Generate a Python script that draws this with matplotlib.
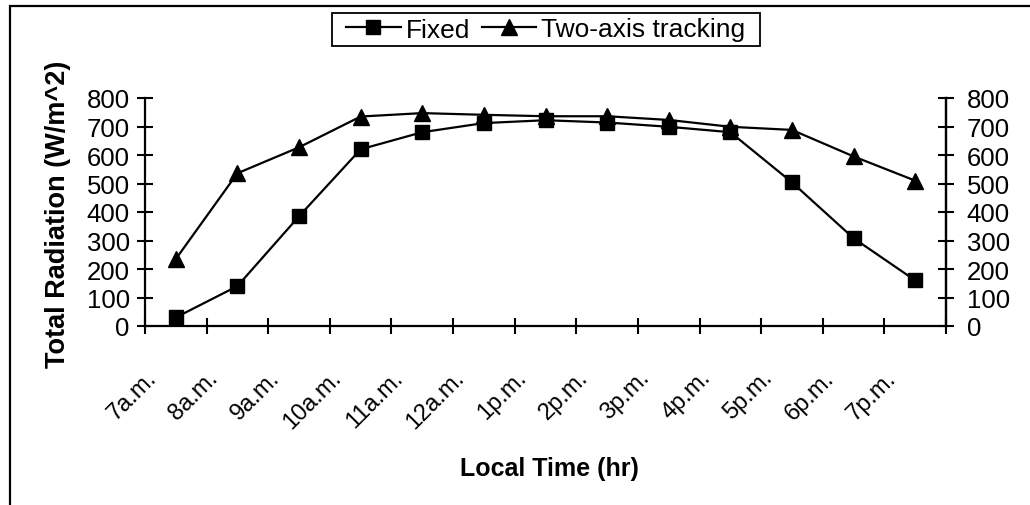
import matplotlib
matplotlib.use("Agg")
import matplotlib.pyplot as plt
from matplotlib.patches import Rectangle
from matplotlib.ticker import FixedLocator, NullFormatter
from matplotlib.transforms import ScaledTranslation

plt.rcParams['font.family'] = ['Liberation Sans', 'DejaVu Sans']

categories = ["7a.m.", "8a.m.", "9a.m.", "10a.m.", "11a.m.", "12a.m.", "1p.m.",
              "2p.m.", "3p.m.", "4p.m.", "5p.m.", "6p.m.", "7p.m."]
fixed = [30, 140, 385, 620, 680, 712, 722, 714, 699, 680, 504, 308, 160]
tracking = [235, 536, 627, 735, 747, 741, 736, 736, 723, 699, 688, 595, 510]
yticks = [0, 100, 200, 300, 400, 500, 600, 700, 800]

W, H = 1030, 506
fig = plt.figure(figsize=(W / 100, H / 100), dpi=100)
ax = fig.add_axes([145 / W, 1 - 327 / H, (946 - 145) / W, (327 - 99) / H])

x = list(range(len(categories)))
l1, = ax.plot(x, fixed, color='black', lw=1.6, marker='s', markersize=9.5,
              label='Fixed')
l2, = ax.plot(x, tracking, color='black', lw=1.6, marker='^', markersize=11,
              label='Two-axis tracking')

ax.set_xlim(-0.5, len(categories) - 0.5)
ax.set_ylim(0, 800)
ax.set_yticks(yticks)

ax.set_xticks(x)
ax.set_xticklabels(categories, rotation=45, ha='right', va='top', fontsize=17)
ax.tick_params(axis='x', which='major', length=0, pad=29)
offset = ScaledTranslation(-15 / 100, 0, fig.dpi_scale_trans)
for lab in ax.get_xticklabels():
    lab.set_transform(lab.get_transform() + offset)
ax.xaxis.set_minor_locator(FixedLocator([i - 0.5 for i in range(len(categories) + 1)]))
ax.xaxis.set_minor_formatter(NullFormatter())
ax.tick_params(axis='x', which='minor', direction='inout', length=12, width=1.5)
ax.tick_params(axis='y', direction='inout', length=12, width=1.5,
               labelsize=18.5, pad=5)

ax.spines['top'].set_visible(False)
for s in ['left', 'bottom', 'right']:
    ax.spines[s].set_linewidth(1.6)

ax2 = ax.twinx()
ax2.set_ylim(0, 800)
ax2.set_yticks(yticks)
ax2.tick_params(axis='y', direction='inout', length=12, width=1.5,
                labelsize=18.5, pad=9)
for s in ['top', 'left', 'bottom']:
    ax2.spines[s].set_visible(False)
ax2.spines['right'].set_linewidth(1.6)

ax.set_xlabel('Local Time (hr)', fontsize=18, fontweight='bold')
ax.xaxis.set_label_coords(0.505, -0.57)
ax.set_ylabel('Total Radiation (W/m^2)', fontsize=19.5, fontweight='bold')
ax.yaxis.set_label_coords(-0.093, 0.495)

fig.patches.append(Rectangle((332 / W, 1 - 47 / H), (760 - 332) / W, 33 / H,
                             transform=fig.transFigure, fill=False,
                             edgecolor='black', linewidth=1.3))
leg = fig.legend(handles=[l1, l2], loc='center',
                 bbox_to_anchor=(546 / W, 1 - 30.5 / H),
                 ncol=2, fontsize=19, frameon=False,
                 handlelength=2.05, handletextpad=0.2, columnspacing=0.45,
                 borderpad=0.0, borderaxespad=0)

fig.patches.append(Rectangle((10 / W, -0.1), 1.2, 1 - 7 / H + 0.1,
                             transform=fig.transFigure, fill=False,
                             edgecolor='black', linewidth=1.6))

fig.savefig('out.png', dpi=100)
